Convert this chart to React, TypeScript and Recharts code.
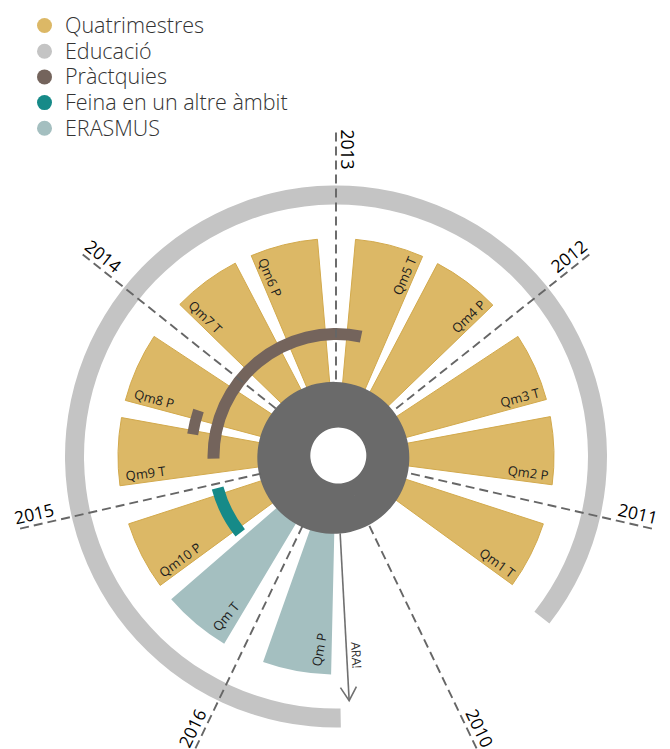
import React from 'react';
import { PieChart, Pie, Cell, Legend } from 'recharts';

// ---------------- data ----------------
const years = ['2010', '2011', '2012', '2013', '2014', '2015', '2016'];
const FIRST_YEAR = 2010;
const TOP_YEAR = 2013;
const LAST_YEAR_END = 2017;

const quadNames = ['Qm1 T', 'Qm2 P', 'Qm3 T', 'Qm4 P', 'Qm5 T', 'Qm6 P', 'Qm7 T', 'Qm8 P', 'Qm9 T', 'Qm10 P', 'Qm T', 'Qm P'];
const quadKinds = ['Quatrimestres', 'Quatrimestres', 'Quatrimestres', 'Quatrimestres', 'Quatrimestres', 'Quatrimestres', 'Quatrimestres', 'Quatrimestres', 'Quatrimestres', 'Quatrimestres', 'ERASMUS', 'ERASMUS'];
const quadStarts = [2010.55, 2011.105, 2011.545, 2012.105, 2012.545, 2013.095, 2013.535, 2014.1, 2014.55, 2015.1, 2015.545, 2016.12];
const quadEnds = [2010.9, 2011.455, 2011.9, 2012.46, 2012.9, 2013.445, 2013.89, 2014.46, 2014.9, 2015.455, 2015.9, 2016.475];

const educacioSpan = [2010.51, 2016.52];
const practiquesSpan = [2012.77, 2014.77];
const practiquesStageSpan = [2014.39, 2014.58];
const feinaSpan = [2015.04, 2015.5];
const araTime = 2016.56;

const legendNames = ['Quatrimestres', 'Educació', 'Pràctquies', 'Feina en un altre àmbit', 'ERASMUS'];
const legendColors = ['#dcb866', '#c4c4c4', '#74645c', '#168a88', '#a4bfc0'];

// ---------------- layout ----------------
const CHART_W = 654;
const CHART_H = 741;
const CX = 328;
const CY = 448.5;
const FONT = "'Segoe UI', 'Open Sans', 'Noto Sans', sans-serif";
const START_ANGLE = 90 - (TOP_YEAR - FIRST_YEAR) * (360 / years.length);
const END_ANGLE = START_ANGLE + 360;
const RAD = Math.PI / 180;

const colorOf = (kind: string) => {
  const i = legendNames.indexOf(kind);
  return i >= 0 ? legendColors[i] : 'none';
};

type Seg = { name: string; kind: string; value: number };
const buildTrack = (starts: number[], ends: number[], names: string[], kinds: string[]): Seg[] => {
  const out: Seg[] = [];
  let t = FIRST_YEAR;
  starts.forEach((s, i) => {
    if (s > t) out.push({ name: '', kind: '', value: s - t });
    out.push({ name: names[i], kind: kinds[i], value: ends[i] - s });
    t = ends[i];
  });
  if (LAST_YEAR_END > t) out.push({ name: '', kind: '', value: LAST_YEAR_END - t });
  return out;
};

const quadTrack = buildTrack(quadStarts, quadEnds, quadNames, quadKinds);
const educacioTrack = buildTrack([educacioSpan[0]], [educacioSpan[1]], ['Educació'], ['Educació']);
const practiquesTrack = buildTrack([practiquesSpan[0]], [practiquesSpan[1]], ['Pràctquies'], ['Pràctquies']);
const practiquesStageTrack = buildTrack([practiquesStageSpan[0]], [practiquesStageSpan[1]], ['Pràctquies'], ['Pràctquies']);
const feinaTrack = buildTrack([feinaSpan[0]], [feinaSpan[1]], ['Feina en un altre àmbit'], ['Feina en un altre àmbit']);
const yearTrack: Seg[] = years.map((y) => ({ name: y, kind: '', value: 1 }));
const araTrack: Seg[] = [
  { name: '', kind: '', value: araTime - FIRST_YEAR },
  { name: 'ARA!', kind: '', value: LAST_YEAR_END - araTime },
];
const centerTrack: Seg[] = [{ name: '', kind: 'center', value: 1 }];

const norm = (a: number) => ((a % 360) + 360) % 360;
const pt = (cx: number, cy: number, r: number, a: number) => [cx + r * Math.cos(a * RAD), cy - r * Math.sin(a * RAD)];

// ---------------- labels ----------------
const renderQuadLabel = (props: any) => {
  const { cx, cy, startAngle, endAngle, midAngle, payload } = props;
  const name = payload?.name;
  if (!name) return null;
  const common = { fontFamily: FONT, fontSize: 13, fill: '#1e1e1e' } as any;
  const mid = norm(midAngle);
  const left = mid >= 90 && mid < 270;
  if (payload.kind === 'ERASMUS') {
    const [x, y] = pt(cx, cy, 211, endAngle - 2.8);
    return (
      <text {...common} x={0} y={0} textAnchor="start" transform={`translate(${x},${y}) rotate(${180 - midAngle})`}>
        {name}
      </text>
    );
  }
  if (left) {
    return (
      <text {...common} x={0} y={0} textAnchor="start" transform={`translate(${cx},${cy}) rotate(${-endAngle}) translate(211,4) rotate(180)`}>
        {name}
      </text>
    );
  }
  return (
    <text {...common} x={0} y={0} textAnchor="end" transform={`translate(${cx},${cy}) rotate(${-startAngle}) translate(213,-4)`}>
      {name}
    </text>
  );
};

const renderYearLabel = (props: any) => {
  const { cx, cy, startAngle, payload } = props;
  const a = startAngle;
  const n = norm(a);
  const left = n >= 90 && n < 270;
  const [x1, y1] = pt(cx, cy, 77, a);
  const [x2, y2] = pt(cx, cy, 327, a);
  const tr = left
    ? `translate(${cx},${cy}) rotate(${-a}) translate(327,5) rotate(180)`
    : `translate(${cx},${cy}) rotate(${-a}) translate(327,-5)`;
  return (
    <g>
      <line x1={x1} y1={y1} x2={x2} y2={y2} stroke="#666" strokeWidth={1.9} strokeDasharray="9 5" />
      <text x={0} y={0} transform={tr} textAnchor={left ? 'start' : 'end'} fontFamily={FONT} fontSize={17.5} fill="#000">
        {payload?.name}
      </text>
    </g>
  );
};

const renderAra = (props: any) => {
  const { cx, cy, startAngle, payload } = props;
  if (payload?.name !== 'ARA!') return null;
  return (
    <g transform={`translate(${cx},${cy}) rotate(${-startAngle})`}>
      <line x1={77} y1={0} x2={244} y2={0} stroke="#707070" strokeWidth={1.6} />
      <polyline points="231,-8 244.5,0 231,8" fill="none" stroke="#707070" strokeWidth={1.6} />
      <text x={213} y={-5} textAnchor="end" fontFamily={FONT} fontSize={12.5} fill="#333">
        ARA!
      </text>
    </g>
  );
};

const renderLegend = () => (
  <svg width={340} height={145}>
    {legendNames.map((n, i) => {
      const y = 17.5 + i * 25.7;
      return (
        <g key={n}>
          <circle cx={36.5} cy={y} r={7.5} fill={legendColors[i]} />
          <text x={57} y={y + 7.5} fontFamily={FONT} fontSize={21.5} fontWeight={300} fill="#333">
            {n}
          </text>
        </g>
      );
    })}
  </svg>
);

const common = {
  cx: CX,
  cy: CY,
  startAngle: START_ANGLE,
  endAngle: END_ANGLE,
  dataKey: 'value',
  nameKey: 'name',
  isAnimationActive: false,
  legendType: 'none' as const,
  stroke: 'none',
};

export default function App() {
  return (
    <div style={{ width: CHART_W, height: CHART_H }}>
      <style>{'html,body{overflow:hidden;}'}</style>
      <PieChart width={CHART_W} height={CHART_H} margin={{ top: 0, right: 0, bottom: 0, left: 0 }}>
        <Legend
          layout="vertical"
          align="center"
          verticalAlign="middle"
          wrapperStyle={{ top: 0, left: 0, width: 340, height: 145 }}
          content={renderLegend}
        />
        <Pie {...common} data={educacioTrack} innerRadius={252} outerRadius={271}>
          {educacioTrack.map((d, i) => (
            <Cell key={i} fill={colorOf(d.kind)} stroke="none" />
          ))}
        </Pie>
        <Pie {...common} data={quadTrack} innerRadius={50} outerRadius={218} label={renderQuadLabel} labelLine={false}>
          {quadTrack.map((d, i) => (
            <Cell
              key={i}
              fill={colorOf(d.kind)}
              stroke={d.kind === 'Quatrimestres' ? '#d2a94c' : 'none'}
              strokeWidth={1}
            />
          ))}
        </Pie>
        <Pie {...common} data={yearTrack} innerRadius={0} outerRadius={327} label={renderYearLabel} labelLine={false}>
          {yearTrack.map((d, i) => (
            <Cell key={i} fill="none" stroke="none" />
          ))}
        </Pie>
        <Pie {...common} data={practiquesTrack} innerRadius={116.5} outerRadius={128.5}>
          {practiquesTrack.map((d, i) => (
            <Cell key={i} fill={colorOf(d.kind)} stroke="none" />
          ))}
        </Pie>
        <Pie {...common} data={practiquesStageTrack} innerRadius={139.5} outerRadius={150.5}>
          {practiquesStageTrack.map((d, i) => (
            <Cell key={i} fill={colorOf(d.kind)} stroke="none" />
          ))}
        </Pie>
        <Pie {...common} data={feinaTrack} innerRadius={116.5} outerRadius={128.5}>
          {feinaTrack.map((d, i) => (
            <Cell key={i} fill={colorOf(d.kind)} stroke="none" />
          ))}
        </Pie>
        <Pie {...common} data={centerTrack} innerRadius={28} outerRadius={76}>
          {centerTrack.map((d, i) => (
            <Cell key={i} fill="#6a6a6a" stroke="none" />
          ))}
        </Pie>
        <Pie {...common} data={araTrack} innerRadius={0} outerRadius={245} label={renderAra} labelLine={false}>
          {araTrack.map((d, i) => (
            <Cell key={i} fill="none" stroke="none" />
          ))}
        </Pie>
      </PieChart>
    </div>
  );
}
